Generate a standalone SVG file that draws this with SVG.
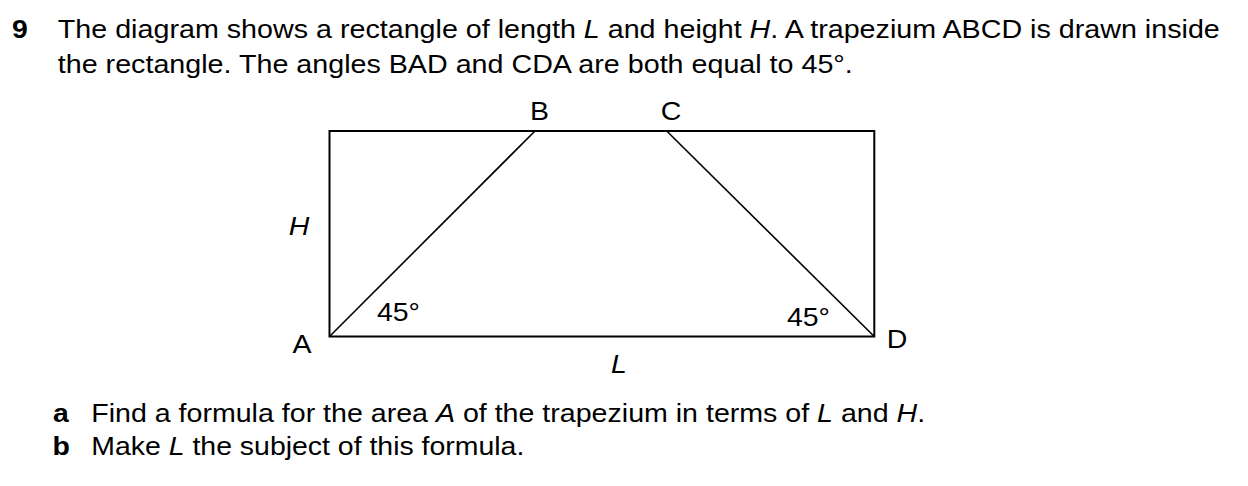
<svg xmlns="http://www.w3.org/2000/svg" width="1248" height="486" viewBox="0 0 1248 486">
<style>
text{font-family:"Liberation Sans",Arial,sans-serif;font-size:26px;fill:#000}
.b{font-weight:bold}
.i{font-style:italic}
.lbl{text-anchor:middle}
.edge{fill:none;stroke:#000;stroke-width:2}
.side{fill:none;stroke:#000;stroke-width:1.6}
</style>
<rect width="1248" height="486" fill="#fff"/>
<g id="question">
<text class="b" x="12" y="38.3" textLength="15.8" lengthAdjust="spacingAndGlyphs">9</text>
<text x="57.8" y="38.3" textLength="1162" lengthAdjust="spacingAndGlyphs">The diagram shows a rectangle of length <tspan class="i">L</tspan> and height <tspan class="i">H</tspan>. A trapezium ABCD is drawn inside</text>
<text x="57.8" y="73.3" textLength="795" lengthAdjust="spacingAndGlyphs">the rectangle. The angles BAD and CDA are both equal to 45°.</text>
</g>
<g id="rectangle">
<rect class="edge" x="329.5" y="131" width="544.8" height="205.5"/>
</g>
<g id="connectors">
<line class="side" x1="329.5" y1="336.5" x2="535" y2="131"/>
<line class="side" x1="666.7" y1="131" x2="874.3" y2="336.5"/>
</g>
<g id="node-A"><text class="lbl" x="302" y="352.7" textLength="19" lengthAdjust="spacingAndGlyphs">A</text></g>
<g id="node-B"><text class="lbl" x="539.5" y="120" textLength="19" lengthAdjust="spacingAndGlyphs">B</text></g>
<g id="node-C"><text class="lbl" x="671" y="120" textLength="20.6" lengthAdjust="spacingAndGlyphs">C</text></g>
<g id="node-D"><text class="lbl" x="897" y="348" textLength="20.6" lengthAdjust="spacingAndGlyphs">D</text></g>
<g id="label-H"><text class="lbl i" x="299" y="235" textLength="20.6" lengthAdjust="spacingAndGlyphs">H</text></g>
<g id="label-L"><text class="lbl i" x="619" y="373" textLength="15.8" lengthAdjust="spacingAndGlyphs">L</text></g>
<g id="angle-A"><text x="377" y="321" textLength="43" lengthAdjust="spacingAndGlyphs">45°</text></g>
<g id="angle-D"><text x="787" y="326" textLength="43" lengthAdjust="spacingAndGlyphs">45°</text></g>
<g id="parts">
<text class="b" x="53" y="422.3" textLength="15.8" lengthAdjust="spacingAndGlyphs">a</text>
<text x="91.2" y="422.3" textLength="834" lengthAdjust="spacingAndGlyphs">Find a formula for the area <tspan class="i">A</tspan> of the trapezium in terms of <tspan class="i">L</tspan> and <tspan class="i">H</tspan>.</text>
<text class="b" x="52.5" y="455" textLength="17.4" lengthAdjust="spacingAndGlyphs">b</text>
<text x="91.3" y="455" textLength="433" lengthAdjust="spacingAndGlyphs">Make <tspan class="i">L</tspan> the subject of this formula.</text>
</g>
</svg>
